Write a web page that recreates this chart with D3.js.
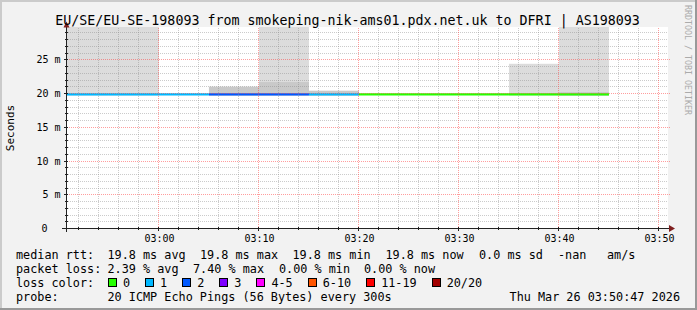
<!DOCTYPE html>
<html>
<head>
<meta charset="utf-8">
<script src="https://cdn.jsdelivr.net/npm/d3@7"></script>
<style>
  html, body { margin: 0; padding: 0; background: #f2f2f2; }
  svg { display: block; font-family: 'DejaVu Sans Mono', monospace; }
</style>
</head>
<body>
<svg id="chart"></svg>
<script>
// one entry per 5 minute rrd step
const stepStarts = ['02:50', '02:55', '03:00', '03:05', '03:10', '03:15', '03:20', '03:25', '03:30', '03:35', '03:40'];
const medianRtt = [19.8, 19.8, 19.8, 19.8, 19.8, 19.8, 19.8, 19.8, 19.8, 19.8, 19.8];
const lossCount = [1, 1, 1, 2, 2, 1, 0, 0, 0, 0, 0];
// smoke (ms): lowest ping, upper edge of darker band, highest ping
const smokeLow = [19.7, 19.7, 19.7, 19.7, 19.7, 19.7, 19.7, 19.7, 19.7, 19.7, 19.7];
const smokeMid = [19.8, 19.8, 19.8, 21.0, 21.7, 20.4, 19.8, 19.8, 19.8, 19.8, 20.2];
const smokeHigh = [40, 40, 19.8, 21.0, 40, 20.4, 19.8, 19.8, 19.8, 24.4, 40];

const timeStart = '02:50:47';
const timeEnd = '03:50:47';
const yTicks = [0, 5, 10, 15, 20, 25];

const lossLabels = ['0', '1', '2', '3', '4-5', '6-10', '11-19', '20/20'];
const lossColors = ['#26ff00', '#00b8ff', '#0059ff', '#7e00ff', '#ff00ff', '#ff5500', '#ff0000', '#a10000'];
const lossUpper = [0, 1, 2, 3, 5, 10, 19, 20];

const title = 'EU/SE/EU-SE-198093 from smokeping-nik-ams01.pdx.net.uk to DFRI | AS198093';
const rttStats = ['19.8 ms avg', '19.8 ms max', '19.8 ms min', '19.8 ms now', '0.0 ms sd', '-nan', 'am/s'];
const rttStatsX = [107.5, 200, 292.5, 385.5, 479, 558, 607];
const lossStats = ['2.39 % avg', '7.40 % max', '0.00 % min', '0.00 % now'];
const lossStatsX = [107.5, 193, 279, 364];
const probeText = '20 ICMP Echo Pings (56 Bytes) every 300s';
const stampText = 'Thu Mar 26 03:50:47 2026';

const W = 697;
const H = 310;
const plot = { left: 66.8, right: 666.8, top: 27, bottom: 228 };
const legendFont = 11.8;
const charW = legendFont * 0.602;

const parseTime = d3.timeParse('%H:%M:%S');
const t = (s) => parseTime(s.length === 5 ? `${s}:00` : s);

const steps = stepStarts.map((s, i) => ({
  start: t(s),
  end: d3.timeMinute.offset(t(s), 5),
  median: medianRtt[i],
  loss: lossCount[i],
  low: smokeLow[i],
  mid: smokeMid[i],
  high: smokeHigh[i],
}));

function lossColor(n) {
  const idx = lossUpper.findIndex((u) => n <= u);
  return lossColors[idx];
}

const x = d3.scaleTime()
  .domain([t(timeStart), t(timeEnd)])
  .range([plot.left, plot.right]);
const y = d3.scaleLinear()
  .domain([0, 30])
  .range([228.5, 26]);

const px = (v) => Math.floor(v) + 0.5;

const svg = d3.select('#chart').attr('width', W).attr('height', H);

// background + 3d frame
svg.append('rect').attr('width', W).attr('height', H).attr('fill', '#f2f2f2');
svg.append('rect').attr('x', 0).attr('y', 0).attr('width', W).attr('height', 2).attr('fill', '#cbcbcb');
svg.append('rect').attr('x', 0).attr('y', 0).attr('width', 2).attr('height', H).attr('fill', '#cbcbcb');
svg.append('rect').attr('x', 0).attr('y', H - 2).attr('width', W).attr('height', 2).attr('fill', '#999');
svg.append('rect').attr('x', W - 2).attr('y', 0).attr('width', 2).attr('height', H).attr('fill', '#999');

// canvas
svg.append('rect')
  .attr('x', 67).attr('y', plot.top)
  .attr('width', 601).attr('height', plot.bottom - plot.top)
  .attr('fill', '#fff');

svg.append('clipPath').attr('id', 'clip')
  .append('rect')
  .attr('x', plot.left).attr('y', plot.top)
  .attr('width', plot.right - plot.left).attr('height', plot.bottom - plot.top);

const gData = svg.append('g').attr('clip-path', 'url(#clip)');

// smoke
gData.selectAll('rect.smoke-hi')
  .data(steps.filter((d) => d.high > d.median))
  .join('rect')
  .attr('class', 'smoke-hi')
  .attr('x', (d) => x(d.start))
  .attr('width', (d) => x(d.end) - x(d.start))
  .attr('y', (d) => y(d.high))
  .attr('height', (d) => y(d.low) - y(d.high))
  .attr('fill', '#dcdcdc');

gData.selectAll('rect.smoke-mid')
  .data(steps.filter((d) => d.mid > d.median))
  .join('rect')
  .attr('class', 'smoke-mid')
  .attr('x', (d) => x(d.start))
  .attr('width', (d) => x(d.end) - x(d.start))
  .attr('y', (d) => y(d.mid))
  .attr('height', (d) => y(d.low) - y(d.mid))
  .attr('fill', '#c9c9c9');

// grid (dotted, semi transparent like rrdtool)
const gGrid = svg.append('g');
const majorT = x.ticks(d3.timeMinute.every(10));
const minorT = x.ticks(d3.timeMinute.every(2)).filter((d) => d.getMinutes() % 10 !== 0);
const minorV = d3.range(1, 30).filter((v) => v % 5 !== 0);
const majorV = yTicks.filter((v) => v > 0);
const minorGrid = { stroke: '#8c8c8c', opacity: 0.45 };
const majorGrid = { stroke: '#ff3c3c', opacity: 0.5 };

function gridLines(cls, data, style, pos) {
  gGrid.selectAll(`line.${cls}`).data(data).join('line')
    .attr('class', cls)
    .each(function (d) {
      d3.select(this).attr('x1', pos.x1(d)).attr('x2', pos.x2(d))
        .attr('y1', pos.y1(d)).attr('y2', pos.y2(d));
    })
    .attr('stroke', style.stroke)
    .attr('stroke-opacity', style.opacity)
    .attr('stroke-dasharray', '1,1')
    .attr('stroke-dashoffset', 1);
}

gridLines('vmin', minorT, minorGrid, {
  x1: (d) => px(x(d)), x2: (d) => px(x(d)), y1: () => plot.top, y2: () => plot.bottom,
});
gridLines('hmin', minorV, minorGrid, {
  x1: () => 67, x2: () => 668, y1: (d) => px(y(d)), y2: (d) => px(y(d)),
});
gridLines('vmaj', majorT, majorGrid, {
  x1: (d) => px(x(d)), x2: (d) => px(x(d)), y1: () => plot.top, y2: () => plot.bottom + 2,
});
gridLines('hmaj', majorV, majorGrid, {
  x1: () => 64, x2: () => 670, y1: (d) => px(y(d)), y2: (d) => px(y(d)),
});

// median line, coloured by loss
gData.selectAll('line.median')
  .data(steps)
  .join('line')
  .attr('class', 'median')
  .attr('x1', (d) => x(d.start))
  .attr('x2', (d) => x(d.end))
  .attr('y1', (d) => y(d.median) - 0.5)
  .attr('y2', (d) => y(d.median) - 0.5)
  .attr('stroke', (d) => lossColor(d.loss))
  .attr('stroke-width', 2.4);

// axes lines + arrows
const gAxis = svg.append('g').attr('shape-rendering', 'crispEdges');
gAxis.append('line')
  .attr('x1', 62).attr('x2', 670).attr('y1', 228.5).attr('y2', 228.5)
  .attr('stroke', '#222');
gAxis.append('line')
  .attr('x1', 66.5).attr('x2', 66.5).attr('y1', 232).attr('y2', 24)
  .attr('stroke', '#222');
gAxis.selectAll('line.ytick').data(d3.range(1, 30)).join('line')
  .attr('class', 'ytick')
  .attr('x1', (d) => (d % 5 === 0 ? 64 : 65)).attr('x2', 68)
  .attr('y1', (d) => px(y(d))).attr('y2', (d) => px(y(d)))
  .attr('stroke', '#222');
gAxis.selectAll('line.xtick').data(x.ticks(d3.timeMinute.every(2))).join('line')
  .attr('class', 'xtick')
  .attr('x1', (d) => px(x(d))).attr('x2', (d) => px(x(d)))
  .attr('y1', 227).attr('y2', (d) => (d.getMinutes() % 10 === 0 ? 231 : 230))
  .attr('stroke', '#222');
svg.append('path').attr('d', 'M63.5,27.5L69.5,27.5L66.5,21.5Z').attr('fill', '#7f1f1f');
svg.append('path').attr('d', 'M669,225L669,232L675,228.5Z').attr('fill', '#7f1f1f');

// axis labels
const xAxis = d3.axisBottom(x)
  .ticks(d3.timeMinute.every(10))
  .tickFormat(d3.timeFormat('%H:%M'))
  .tickSize(0)
  .tickPadding(0);
const gX = svg.append('g')
  .attr('transform', 'translate(0,234.5)')
  .call(xAxis);
gX.select('.domain').remove();
gX.selectAll('text')
  .attr('font-family', 'DejaVu Sans Mono, monospace')
  .attr('font-size', 10)
  .attr('fill', '#000');

const yAxis = d3.axisLeft(y)
  .tickValues(yTicks)
  .tickFormat((d) => (d === 0 ? '0' : `${d} m`))
  .tickSize(0)
  .tickPadding(0);
const gY = svg.append('g')
  .attr('transform', 'translate(60.5,0)')
  .call(yAxis);
gY.select('.domain').remove();
gY.selectAll('text')
  .attr('font-family', 'DejaVu Sans Mono, monospace')
  .attr('font-size', 10)
  .attr('fill', '#000')
  .attr('x', (d) => (d === 0 ? -13 : 0));

svg.append('text')
  .attr('transform', 'translate(14,128) rotate(-90)')
  .attr('text-anchor', 'middle')
  .attr('font-size', 11)
  .text('Seconds');

svg.append('text')
  .attr('x', 347.5).attr('y', 24.5)
  .attr('text-anchor', 'middle')
  .attr('font-size', 13.3)
  .text(title);

svg.append('text')
  .attr('transform', 'translate(685,5) rotate(90)')
  .attr('font-size', 8.3)
  .attr('fill', '#ababab')
  .text('RRDTOOL / TOBI OETIKER');

// legend
const gLegend = svg.append('g').attr('font-size', legendFont).attr('fill', '#000');
const rows = [258.5, 272.5, 286.5, 300.5];

gLegend.append('text').attr('x', 16).attr('y', rows[0]).text('median rtt:');
gLegend.selectAll('text.rtt').data(rttStats).join('text')
  .attr('class', 'rtt')
  .attr('x', (d, i) => rttStatsX[i]).attr('y', rows[0])
  .text((d) => d);

gLegend.append('text').attr('x', 16).attr('y', rows[1]).text('packet loss:');
gLegend.selectAll('text.loss').data(lossStats).join('text')
  .attr('class', 'loss')
  .attr('x', (d, i) => lossStatsX[i]).attr('y', rows[1])
  .text((d) => d);

gLegend.append('text').attr('x', 16).attr('y', rows[2]).text('loss color:');
let lx = 108;
lossLabels.forEach((label, i) => {
  gLegend.append('rect')
    .attr('x', lx + 0.5).attr('y', 278.5)
    .attr('width', 8).attr('height', 8)
    .attr('fill', lossColors[i])
    .attr('stroke', '#000')
    .attr('shape-rendering', 'crispEdges');
  gLegend.append('text').attr('x', lx + 15).attr('y', rows[2]).text(label);
  lx += 15 + label.length * charW + 15;
});

gLegend.append('text').attr('x', 16).attr('y', rows[3]).text('probe:');
gLegend.append('text').attr('x', 107.5).attr('y', rows[3]).text(probeText);
gLegend.append('text').attr('x', 680).attr('y', rows[3])
  .attr('text-anchor', 'end').text(stampText);
</script>
</body>
</html>
